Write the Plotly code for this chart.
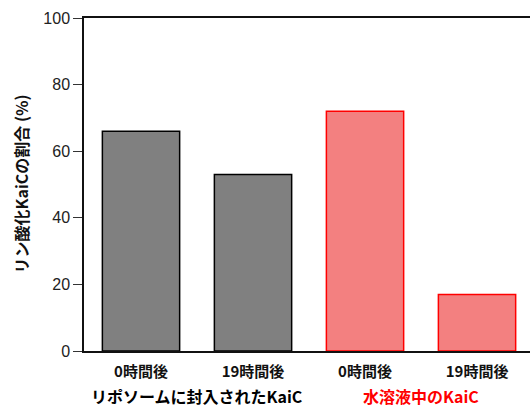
import plotly.graph_objects as go

categories = ["0時間後", "19時間後", "0時間後", "19時間後"]
values = [66, 53, 72, 17]
groups = ["リポソームに封入されたKaiC", "水溶液中のKaiC"]
group_colors = ["#000000", "#FF0000"]
fill_colors = ["#808080", "#808080", "#F38080", "#F38080"]
line_colors = ["#000000", "#000000", "#FF0000", "#FF0000"]
y_ticks = [0, 20, 40, 60, 80, 100]

xpos = list(range(len(categories)))
cjk = "Noto Sans CJK JP"

fig = go.Figure(go.Bar(
    x=xpos, y=values, width=0.69,
    marker=dict(color=fill_colors, line=dict(color=line_colors, width=1.5)),
))

fig.update_layout(
    width=530, height=407,
    margin=dict(l=84, r=0, t=18, b=56),
    paper_bgcolor="white", plot_bgcolor="white",
    showlegend=False,
    font=dict(family="Liberation Sans, Arial", color="#222"),
)
fig.update_xaxes(
    range=[-0.509, 3.473], tickvals=xpos, ticktext=categories,
    tickfont=dict(family=cjk, size=15, color="#111", weight="bold"),
    ticks="outside", ticklen=6, tickcolor="rgba(0,0,0,0)",
    showline=True, linecolor="#111", linewidth=1.5, mirror=True,
    showgrid=False, zeroline=False,
)
fig.update_yaxes(
    range=[0, 100], tickvals=y_ticks,
    tickfont=dict(family="Liberation Sans, Arial", size=16, color="#222"),
    ticks="outside", ticklen=9, tickcolor="#333", tickwidth=1,
    showline=True, linecolor="#111", linewidth=1.5,
    showgrid=False, zeroline=False,
)

plot_w = 446
# y-axis title
fig.add_annotation(
    text="<b>リン酸化KaiCの割合 (%)</b>", textangle=-90,
    xref="paper", yref="paper", x=(20 - 84) / plot_w, y=0.5,
    xanchor="center", yanchor="middle", showarrow=False,
    font=dict(family=cjk, size=16, color="#111"),
)
# group labels
for i, (g, c) in enumerate(zip(groups, group_colors)):
    fig.add_annotation(
        text="<b>" + g + "</b>", x=2 * i + 0.5, xref="x",
        yref="paper", y=-(396 - 351) / 333, yanchor="middle",
        showarrow=False, font=dict(family=cjk, size=16, color=c),
    )

fig.write_html("out.html")
